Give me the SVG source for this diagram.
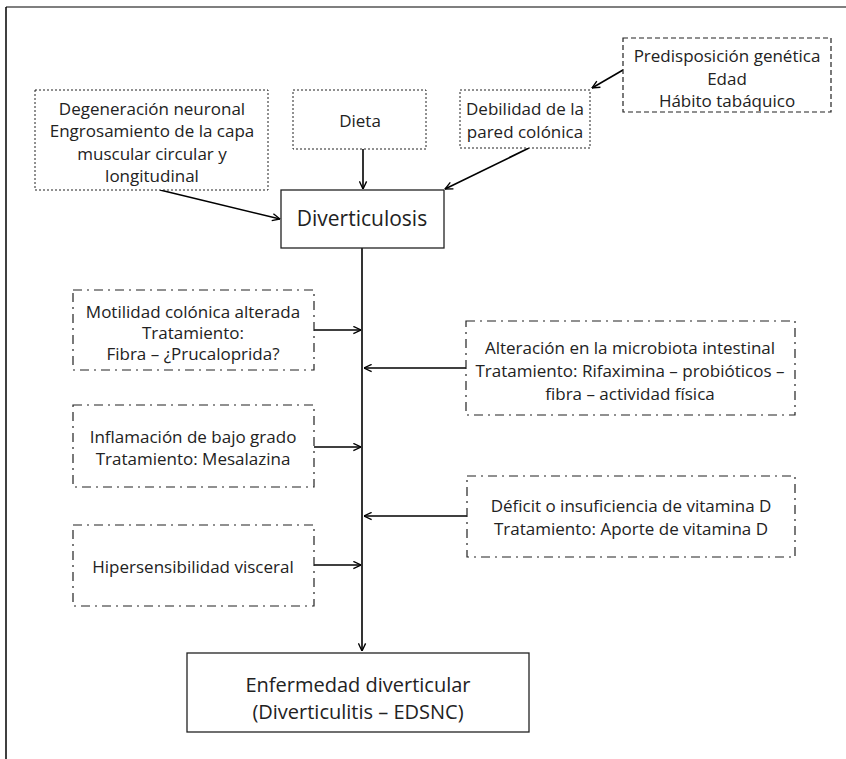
<svg xmlns="http://www.w3.org/2000/svg" width="846" height="759" viewBox="0 0 846 759">
<style>
text{font-family:"Open Sans","Noto Sans","Liberation Sans",sans-serif;fill:#222;text-anchor:middle;dominant-baseline:central}
.s{font-size:17px}
.b{font-size:21px}
.b2{font-size:20px}
.box{fill:#fff;stroke:#222}
.dot{stroke-dasharray:2 2;stroke-width:1}
.dash{stroke-dasharray:5 3;stroke-width:1.2}
.dd{stroke-dasharray:9 5 2 5;stroke-width:1.2}
.solid{stroke-width:1.3}
.c{stroke:#000;stroke-width:1.6;fill:none;marker-end:url(#ah)}
</style>
<defs>
<marker id="ah" viewBox="0 0 10 10" refX="9.5" refY="5" markerWidth="9" markerHeight="9" markerUnits="userSpaceOnUse" orient="auto">
<path d="M1,1 L9.5,5 L1,9" fill="none" stroke="#000" stroke-width="1.5"/>
</marker>
</defs>
<rect width="846" height="759" fill="#fff"/>
<g id="frame">
<line x1="6" y1="7" x2="846" y2="7" stroke="#555" stroke-width="1.5"/>
<line x1="6" y1="7" x2="6" y2="759" stroke="#000" stroke-width="1.5"/>
</g>
<g id="connectors">
<line class="c" x1="623" y1="70" x2="592" y2="88"/>
<line class="c" x1="160" y1="190" x2="280" y2="219"/>
<line class="c" x1="363" y1="149" x2="363" y2="189"/>
<line class="c" x1="529" y1="148" x2="445" y2="189"/>
<line class="c" x1="362" y1="248" x2="362" y2="651"/>
<line class="c" x1="314" y1="330" x2="361" y2="330"/>
<line class="c" x1="466" y1="368" x2="364" y2="368"/>
<line class="c" x1="314" y1="447" x2="361" y2="447"/>
<line class="c" x1="467" y1="516" x2="364" y2="516"/>
<line class="c" x1="314" y1="565" x2="361" y2="565"/>
</g>
<g id="predisposicion">
<rect class="box dash" x="623" y="38" width="208" height="74"/>
<text class="s" x="727" y="55">Predisposición genética</text>
<text class="s" x="727" y="78">Edad</text>
<text class="s" x="727" y="100">Hábito tabáquico</text>
</g>
<g id="degeneracion">
<rect class="box dot" x="35" y="90" width="233" height="100"/>
<text class="s" x="152" y="108">Degeneración neuronal</text>
<text class="s" x="152" y="130">Engrosamiento de la capa</text>
<text class="s" x="152" y="153">muscular circular y</text>
<text class="s" x="152" y="175">longitudinal</text>
</g>
<g id="dieta">
<rect class="box dot" x="293" y="90" width="133" height="59"/>
<text class="s" x="360" y="120">Dieta</text>
</g>
<g id="debilidad">
<rect class="box dot" x="460" y="90" width="130" height="58"/>
<text class="s" x="525" y="108">Debilidad de la</text>
<text class="s" x="525" y="131">pared colónica</text>
</g>
<g id="diverticulosis">
<rect class="box solid" x="281" y="190" width="163" height="58"/>
<text class="b" x="362" y="218">Diverticulosis</text>
</g>
<g id="motilidad">
<rect class="box dd" x="73" y="290" width="241" height="80"/>
<text class="s" x="193" y="311">Motilidad colónica alterada</text>
<text class="s" x="193" y="332">Tratamiento:</text>
<text class="s" x="193" y="353">Fibra – ¿Prucaloprida?</text>
</g>
<g id="microbiota">
<rect class="box dd" x="466" y="321" width="329" height="94"/>
<text class="s" x="630" y="347">Alteración en la microbiota intestinal</text>
<text class="s" x="630" y="370">Tratamiento: Rifaximina – probióticos –</text>
<text class="s" x="630" y="393">fibra – actividad física</text>
</g>
<g id="inflamacion">
<rect class="box dd" x="73" y="405" width="241" height="82"/>
<text class="s" x="193" y="436">Inflamación de bajo grado</text>
<text class="s" x="193" y="458">Tratamiento: Mesalazina</text>
</g>
<g id="vitaminaD">
<rect class="box dd" x="467" y="476" width="328" height="81"/>
<text class="s" x="631" y="505">Déficit o insuficiencia de vitamina D</text>
<text class="s" x="631" y="528">Tratamiento: Aporte de vitamina D</text>
</g>
<g id="hipersensibilidad">
<rect class="box dd" x="73" y="525" width="241" height="81"/>
<text class="s" x="193" y="566">Hipersensibilidad visceral</text>
</g>
<g id="enfermedad">
<rect class="box solid" x="187" y="653" width="342" height="79"/>
<text class="b2" x="358" y="684">Enfermedad diverticular</text>
<text class="b2" x="358" y="711">(Diverticulitis – EDSNC)</text>
</g>
</svg>
